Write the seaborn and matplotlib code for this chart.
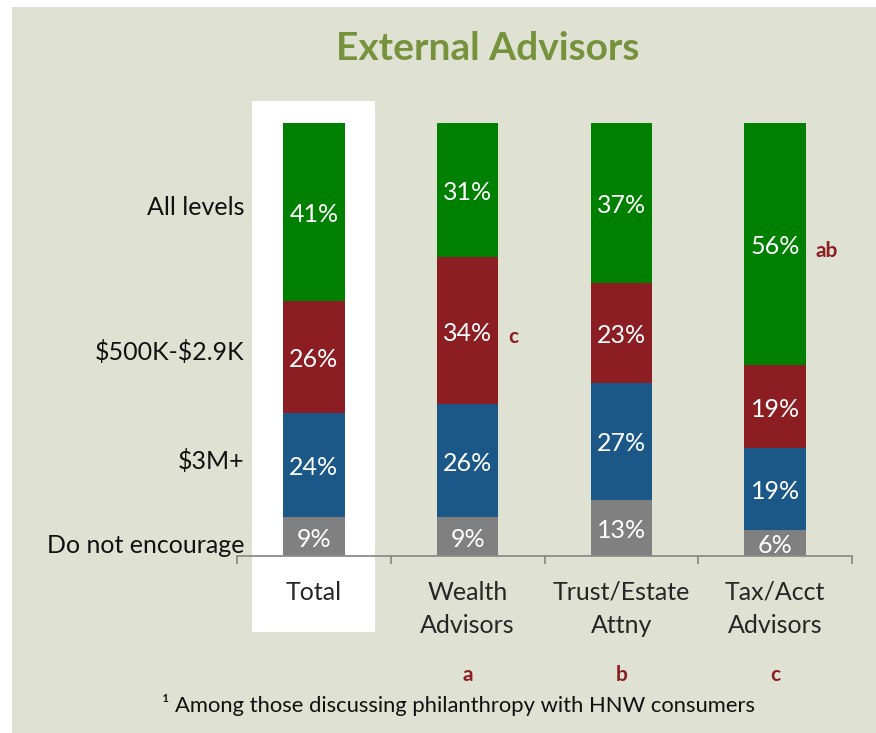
"""External Advisors - stacked share of encouragement levels by advisor type."""
import matplotlib

matplotlib.use("Agg")
import matplotlib.pyplot as plt
import matplotlib.patches as mpatches
import numpy as np
import pandas as pd
import seaborn as sns

# data
advisors = ["Total", "Wealth\nAdvisors", "Trust/Estate\nAttny", "Tax/Acct\nAdvisors"]
levels = ["Do not encourage", "$3M+", "$500K-$2.9K", "All levels"]
do_not = [9, 9, 13, 6]
three_m = [24, 26, 27, 19]
mid_range = [26, 34, 23, 19]
all_levels = [41, 31, 37, 56]
sig_letters = ["", "a", "b", "c"]
# significance markers: (advisor index, level, text)
sig_marks = [(1, "$500K-$2.9K", "c"), (3, "All levels", "ab")]

df = pd.DataFrame({
    "advisor": advisors,
    "Do not encourage": do_not,
    "$3M+": three_m,
    "$500K-$2.9K": mid_range,
    "All levels": all_levels,
})

colors = {
    "Do not encourage": "#808080",
    "$3M+": "#1b5888",
    "$500K-$2.9K": "#8c1d22",
    "All levels": "#008000",
}
BG = "#dfe2d2"
DARK_RED = "#8c1d22"

sns.set_style("white")
plt.rcParams["font.family"] = ["Lato", "DejaVu Sans"]

W, H = 876, 733
fig = plt.figure(figsize=(W / 100, H / 100), dpi=100, facecolor="white")
fig.patches.append(mpatches.Rectangle((12 / W, 0), 1, (H - 7) / H, transform=fig.transFigure,
                                      facecolor=BG, edgecolor="none", zorder=-10))

ax = fig.add_axes([237 / W, (H - 556) / H, 615 / W, 433 / H])
ax.set_facecolor("none")

# white highlight behind the Total column
ax.add_patch(mpatches.Rectangle((-0.4, -17.6), 0.8, 122.7, facecolor="white",
                                edgecolor="none", clip_on=False, zorder=0))

bottom = np.zeros(len(advisors))
mids = {}
for lvl in levels:
    vals = df[lvl].to_numpy()
    sns.barplot(data=df, x="advisor", y=lvl, order=advisors, bottom=bottom,
                color=colors[lvl], width=0.4, errorbar=None, linewidth=0,
                saturation=1, ax=ax, zorder=2)
    mids[lvl] = bottom + vals / 2
    for i, v in enumerate(vals):
        ax.text(i, mids[lvl][i] - 0.6, f"{v}%", ha="center", va="center",
                color="white", fontsize=18, zorder=3)
    bottom = bottom + vals

ax.set_xlim(-0.5, len(advisors) - 0.5)
ax.set_ylim(0, 100)
ax.set_xlabel("")
ax.set_ylabel("")
ax.set_yticks([])
for s in ["top", "right", "left"]:
    ax.spines[s].set_visible(False)
ax.spines["bottom"].set_color("#8c8c8c")
ax.spines["bottom"].set_linewidth(1.3)

ax.set_xticks(range(len(advisors)))
ax.set_xticklabels(advisors, fontsize=18, color="#262626", linespacing=1.55, va="top")
ax.tick_params(axis="x", which="major", length=0, pad=18)
ax.set_xticks(np.arange(-0.5, len(advisors), 1), minor=True)
ax.tick_params(axis="x", which="minor", bottom=True, length=6, width=1.3,
               color="#8c8c8c", direction="out")

# level labels next to the Total column
for lvl in levels:
    y = mids[lvl][0] + 1
    if lvl == "Do not encourage":
        y = 2.5
    ax.text(-0.45, y, lvl, ha="right", va="center", fontsize=18, color="#111111",
            clip_on=False, parse_math=False)

# significance markers
for i, lvl, txt in sig_marks:
    ax.text(i + 0.265, mids[lvl][i] - 1.5, txt, ha="left", va="center", fontsize=15,
            fontweight="bold", color=DARK_RED)

for i, letter in enumerate(sig_letters):
    if letter:
        ax.text(i, -27.5, letter, ha="center", va="center", fontsize=15,
                fontweight="bold", color=DARK_RED, clip_on=False)

fig.text(488 / W, 1 - 48 / H, "External Advisors", ha="center", va="center",
         fontsize=28, fontweight="bold", color="#76923c")
fig.text(458 / W, 1 - 705 / H, "\u00b9 Among those discussing philanthropy with HNW consumers",
         ha="center", va="center", fontsize=15.8, color="#111111")

fig.savefig("out.png", dpi=100, facecolor="white")
